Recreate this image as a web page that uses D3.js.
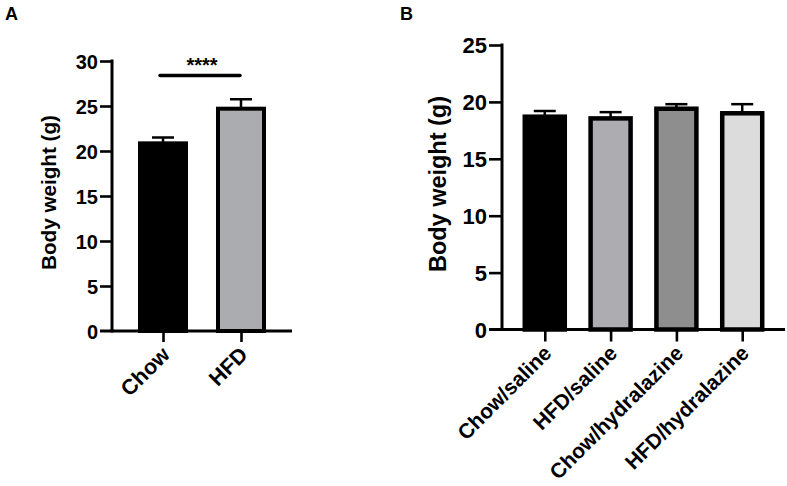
<!DOCTYPE html>
<html>
<head>
<meta charset="utf-8">
<script src="https://cdn.jsdelivr.net/npm/d3@7"></script>
<style>
  html, body { margin: 0; padding: 0; background: #fff; }
  svg text { font-family: "Liberation Sans", Arial, Helvetica, sans-serif; font-weight: bold; fill: #000; }
</style>
</head>
<body>
<svg id="chart" width="787" height="486"></svg>
<script>
// ---- Panel A data ----
const catsA = ["Chow", "HFD"];
const meansA = [20.85, 24.7];
const semA = [0.65, 1.05];
const colorsA = ["#000000", "#abacb0"];
const ticksA = [0, 5, 10, 15, 20, 25, 30];
const sigA = { from: "Chow", to: "HFD", level: 28.4, label: "****" };

// ---- Panel B data ----
const catsB = ["Chow/saline", "HFD/saline", "Chow/hydralazine", "HFD/hydralazine"];
const meansB = [18.7, 18.55, 19.4, 19.0];
const semB = [0.5, 0.55, 0.4, 0.8];
const colorsB = ["#000000", "#adadb1", "#8e8e8e", "#dcdcdc"];
const ticksB = [0, 5, 10, 15, 20, 25];

const yTitle = "Body weight (g)";

const svg = d3.select("#chart");

function panel(opts) {
  const g = svg.append("g");
  const x = d3.scalePoint().domain(opts.cats).range([opts.axisX, opts.xEnd]).padding(opts.pad);
  const y = d3.scaleLinear().domain([0, opts.ymax]).range([opts.y0, opts.ytop]);

  const data = opts.cats.map((c, i) => ({ c, m: opts.means[i], s: opts.sem[i], col: opts.colors[i] }));
  // error bars (drawn behind bars)
  data.forEach(d => {
    g.append("line").attr("x1", x(d.c)).attr("x2", x(d.c))
      .attr("y1", y(d.m)).attr("y2", y(d.m + d.s))
      .attr("stroke", "#000").attr("stroke-width", 2.5);
    g.append("line").attr("x1", x(d.c) - opts.capW / 2).attr("x2", x(d.c) + opts.capW / 2)
      .attr("y1", y(d.m + d.s)).attr("y2", y(d.m + d.s))
      .attr("stroke", "#000").attr("stroke-width", 2.5);
  });
  g.selectAll("rect.bar").data(data).enter().append("rect")
    .attr("class", "bar")
    .attr("x", d => x(d.c) - opts.barW / 2)
    .attr("width", opts.barW)
    .attr("y", d => y(d.m))
    .attr("height", d => y(0) - y(d.m))
    .attr("fill", d => d.col)
    .attr("stroke", "#000")
    .attr("stroke-width", opts.barSW);

  // y axis
  const yAxis = d3.axisLeft(y).tickValues(opts.ticks).tickSize(opts.tickLen).tickPadding(2).tickFormat(d3.format("d"));
  const ya = g.append("g").attr("transform", `translate(${opts.axisX},0)`).call(yAxis);
  ya.select(".domain").remove();
  ya.selectAll(".tick line").attr("stroke", "#000").attr("stroke-width", 2.6);
  ya.selectAll(".tick text").style("font-size", opts.tickFS + "px").attr("dy", "0.36em");
  ya.selectAll(".tick").filter(d => d === 0).select("line").remove();
  g.append("line").attr("x1", opts.axisX).attr("x2", opts.axisX)
    .attr("y1", y(0)).attr("y2", y(opts.ymax))
    .attr("stroke", "#000").attr("stroke-width", 3).attr("stroke-linecap", "square");

  // x axis
  const xAxis = d3.axisBottom(x).tickSize(opts.tickLen - 1).tickFormat("");
  const xa = g.append("g").attr("transform", `translate(0,${opts.y0})`).call(xAxis);
  xa.select(".domain").remove();
  xa.selectAll(".tick line").attr("stroke", "#000").attr("stroke-width", 2.6);
  g.append("line").attr("x1", opts.axisX - opts.tickLen).attr("x2", opts.xEnd)
    .attr("y1", y(0)).attr("y2", y(0))
    .attr("stroke", "#000").attr("stroke-width", 3);

  // x labels rotated
  g.selectAll("text.xl").data(opts.cats).enter().append("text")
    .attr("class", "xl")
    .attr("text-anchor", "end")
    .style("font-size", opts.xFS + "px")
    .attr("transform", d => `translate(${x(d) + 8},${opts.y0 + 25}) rotate(-45)`)
    .text(d => d);

  // y title
  g.append("text")
    .attr("text-anchor", "middle")
    .style("font-size", opts.titleFS + "px")
    .attr("textLength", opts.titleLen)
    .attr("lengthAdjust", "spacingAndGlyphs")
    .attr("transform", `translate(${opts.titleX},${opts.titleY}) rotate(-90)`)
    .text(yTitle);

  // panel letter
  g.append("text").attr("x", opts.letterX).attr("y", 20).style("font-size", "18px").text(opts.letter);

  return { g, x, y };
}

const A = panel({
  cats: catsA, means: meansA, sem: semA, colors: colorsA, ticks: ticksA,
  ymax: 30, y0: 331, ytop: 61, axisX: 112, xEnd: 292, pad: 0.654,
  barW: 46, barSW: 4, capW: 22, tickLen: 12, tickFS: 20, xFS: 21.5,
  titleFS: 21, titleLen: 155, titleX: 56, titleY: 192.5, letter: "A", letterX: 5
});

// significance bar
A.g.append("line")
  .attr("x1", A.x(sigA.from) - 3).attr("x2", A.x(sigA.to) - 1)
  .attr("y1", A.y(sigA.level)).attr("y2", A.y(sigA.level))
  .attr("stroke", "#000").attr("stroke-width", 3.5).attr("stroke-linecap", "round");
A.g.append("text")
  .attr("x", (A.x(sigA.from) + A.x(sigA.to)) / 2)
  .attr("y", A.y(sigA.level) - 3)
  .attr("text-anchor", "middle")
  .style("font-size", "20px")
  .text(sigA.label);

panel({
  cats: catsB, means: meansB, sem: semB, colors: colorsB, ticks: ticksB,
  ymax: 25, y0: 329.5, ytop: 45, axisX: 502, xEnd: 785, pad: 0.65,
  barW: 40, barSW: 4.5, capW: 22, tickLen: 13, tickFS: 22, xFS: 21,
  titleFS: 23, titleLen: 176, titleX: 446, titleY: 184, letter: "B", letterX: 400
});
</script>
</body>
</html>
